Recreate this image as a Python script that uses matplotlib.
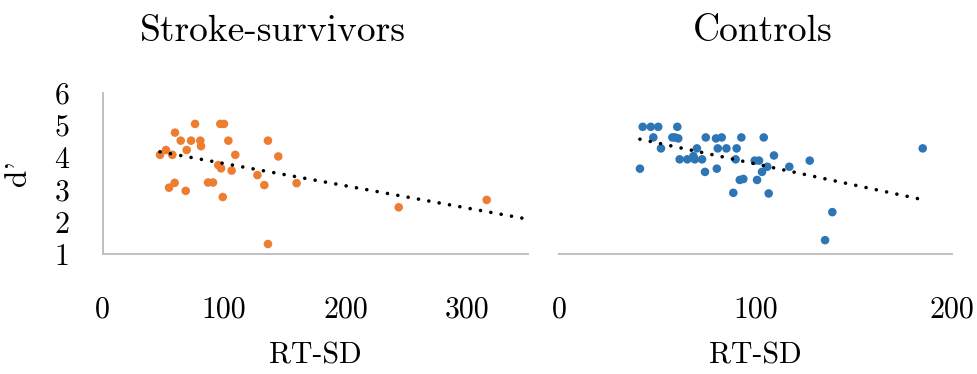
import numpy as np
import matplotlib
matplotlib.use("Agg")
import matplotlib.pyplot as plt

plt.rcParams["font.family"] = ["cmr10", "DejaVu Serif"]
plt.rcParams["axes.formatter.use_mathtext"] = True

# Stroke-survivors: response-time SD vs d'
stroke_rtsd = [47.2, 52.1, 57.3, 59.5, 64.2, 72.7, 76.0, 80.3, 80.9, 69.1,
               96.8, 99.8, 103.4, 109.1, 95.1, 97.4, 106.1, 59.2, 54.6, 68.3,
               86.7, 90.8, 98.8, 127.3, 133.0, 136.0, 144.5, 159.6, 136.0,
               243.6, 316.0]
stroke_dprime = [4.08, 4.23, 4.08, 4.77, 4.52, 4.52, 5.04, 4.52, 4.35, 4.23,
                 5.04, 5.04, 4.52, 4.08, 3.76, 3.66, 3.59, 3.21, 3.06, 2.96,
                 3.22, 3.22, 2.77, 3.45, 3.14, 4.52, 4.03, 3.20, 1.31,
                 2.45, 2.68]

# Controls
ctrl_rtsd = [42.6, 46.7, 50.5, 60.2, 48.0, 57.7, 59.0, 60.7, 51.9, 41.2,
             61.4, 65.3, 68.4, 69.1, 70.2, 72.8, 74.7, 74.3, 79.9, 82.8,
             80.8, 85.2, 80.3, 90.4, 89.9, 92.8, 88.7, 92.0, 93.8, 99.6,
             101.8, 104.2, 103.3, 100.8, 106.0, 106.7, 109.4, 117.2, 127.6,
             139.1, 135.4, 185.1]
ctrl_dprime = [4.95, 4.95, 4.95, 4.95, 4.62, 4.62, 4.62, 4.59, 4.28, 3.65,
               3.94, 3.94, 4.04, 3.94, 4.28, 3.94, 4.62, 3.55, 4.59, 4.62,
               4.28, 4.28, 3.65, 4.28, 3.94, 4.62, 2.90, 3.30, 3.33, 3.90,
               3.90, 4.62, 3.55, 3.30, 3.71, 2.88, 4.06, 3.71, 3.90,
               2.30, 1.43, 4.28]

y_ticks = [1, 2, 3, 4, 5, 6]
stroke_xticks = [0, 100, 200, 300]
ctrl_xticks = [0, 100, 200]

ORANGE = "#ED7D31"
BLUE = "#2E75B6"
SPINE = "#BFBFBF"
FS = 21.5
TITLE_FS = 27

fig = plt.figure(figsize=(9.77, 3.74), dpi=100)
W, H = 977, 374

def px_axes(x0, x1, ytop, ybot):
    return fig.add_axes([x0 / W, 1 - ybot / H, (x1 - x0) / W, (ybot - ytop) / H])

ax1 = px_axes(102.7, 528, 93, 254)
ax2 = px_axes(559, 952, 93, 254)

def style(ax, xmax, xticks, show_y):
    ax.set_xlim(0, xmax)
    ax.set_ylim(1, 6)
    ax.set_xticks(xticks)
    ax.set_xticklabels([str(t) for t in xticks], fontsize=FS)
    ax.set_yticks(y_ticks)
    ax.tick_params(length=0)
    ax.tick_params(axis="x", pad=30)
    ax.tick_params(axis="y", pad=24)
    for s in ("top", "right"):
        ax.spines[s].set_visible(False)
    ax.spines["bottom"].set_color(SPINE)
    ax.spines["bottom"].set_linewidth(1.4)
    if show_y:
        ax.set_yticklabels([str(t) for t in y_ticks], fontsize=FS)
        ax.spines["left"].set_color(SPINE)
        ax.spines["left"].set_linewidth(1.4)
    else:
        ax.set_yticklabels([])
        ax.spines["left"].set_visible(False)
    ax.set_xlabel("RT-SD", fontsize=FS, labelpad=14)
    ax.patch.set_alpha(0)

def trend(ax, x, y, x_end):
    k, b = np.polyfit(x, y, 1)
    xs = np.array([min(x), x_end])
    ax.plot(xs, k * xs + b, color="black", linewidth=2.6,
            linestyle=(0, (0.01, 2.9)), dash_capstyle="round", zorder=3)

ax1.scatter(stroke_rtsd, stroke_dprime, s=38, color=ORANGE, edgecolors="none", zorder=2)
trend(ax1, stroke_rtsd, stroke_dprime, 350)
style(ax1, 350, stroke_xticks, True)
ax1.set_ylabel("d'", fontsize=FS + 1, labelpad=16)

ax2.scatter(ctrl_rtsd, ctrl_dprime, s=38, color=BLUE, edgecolors="none", zorder=2)
trend(ax2, ctrl_rtsd, ctrl_dprime, max(ctrl_rtsd))
style(ax2, 200, ctrl_xticks, False)

fig.text(273 / W, 1 - 31 / H, "Stroke-survivors", fontsize=TITLE_FS, ha="center", va="center")
fig.text(763 / W, 1 - 31 / H, "Controls", fontsize=TITLE_FS, ha="center", va="center")

fig.savefig("out.png", dpi=100)
